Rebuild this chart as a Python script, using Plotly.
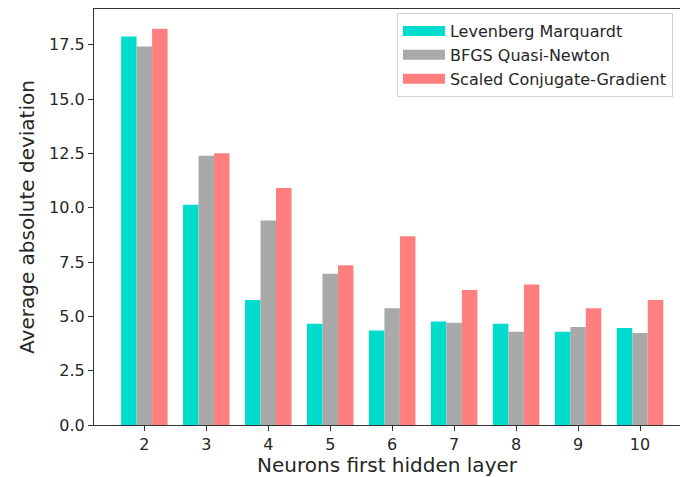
import plotly.graph_objects as go

neurons = [2, 3, 4, 5, 6, 7, 8, 9, 10]
levenberg = [17.88, 10.14, 5.75, 4.66, 4.35, 4.77, 4.66, 4.29, 4.46]
bfgs = [17.42, 12.40, 9.41, 6.96, 5.37, 4.71, 4.29, 4.51, 4.24]
scg = [18.24, 12.51, 10.91, 7.35, 8.69, 6.21, 6.47, 5.38, 5.75]
series_names = ["Levenberg Marquardt", "BFGS Quasi-Newton", "Scaled Conjugate-Gradient"]
colors = ["#00DCCB", "#A9A9A9", "#FF7F7F"]
y_ticks = [0, 2.5, 5, 7.5, 10, 12.5, 15, 17.5]

fig = go.Figure()
for name, vals, col in zip(series_names, [levenberg, bfgs, scg], colors):
    fig.add_trace(go.Bar(x=neurons, y=vals, name=name, marker_color=col,
                         marker_line_width=0, showlegend=False))
for name, col in zip(series_names, colors):
    fig.add_trace(go.Scatter(x=[None], y=[None], mode="lines", name=name,
                             line=dict(color=col, width=11)))

font = "DejaVu Sans"
fig.update_layout(
    width=680, height=477,
    margin=dict(l=94, r=0, t=9, b=52),
    barmode="group", bargap=0.25, bargroupgap=0,
    plot_bgcolor="white", paper_bgcolor="white",
    font=dict(family=font, color="#262626", size=16),
    legend=dict(x=0.517, y=0.99, xanchor="left", yanchor="top",
                bordercolor="#D0D0D0", borderwidth=1, bgcolor="white",
                font=dict(size=16, family=font), itemwidth=42,
                tracegroupgap=0),
    xaxis=dict(range=[1.1875, 10.645], tickmode="array", tickvals=neurons,
               ticks="outside", ticklen=5, tickcolor="#333", showgrid=False,
               showline=True, linecolor="#333", linewidth=1.2, mirror=True,
               zeroline=False, tickfont=dict(size=16),
               title=dict(text="Neurons first hidden layer", font=dict(size=20), standoff=6)),
    yaxis=dict(range=[0, 19.15], tickmode="array", tickvals=y_ticks, tickformat=".1f",
               ticks="outside", ticklen=5, tickcolor="#333", showgrid=False,
               showline=True, linecolor="#333", linewidth=1.2,
               zeroline=False, tickfont=dict(size=16),
               title=dict(text="Average absolute deviation", font=dict(size=20), standoff=9)),
)
fig.write_html("out.html", config={"displayModeBar": False},
               post_script="document.body.style.margin='0';")
